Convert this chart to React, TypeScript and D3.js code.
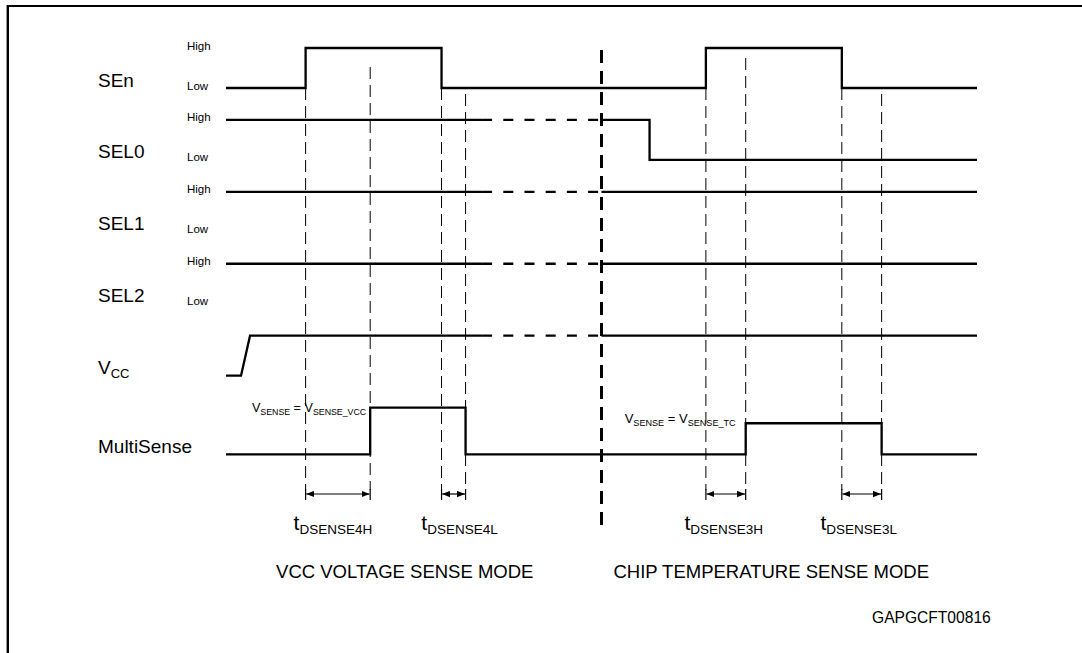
import React from 'react';
import * as d3 from 'd3';

// ---------- data ----------
const signals = ['SEn', 'SEL0', 'SEL1', 'SEL2', 'VCC', 'MultiSense'];
const levelLabelRows = ['SEn', 'SEL0', 'SEL1', 'SEL2'];
const levelNames = ['High', 'Low'];
const timeDomain = [0, 100];
const modeBoundary = 50;
const dashedSpan = [34.1, 50];
const dashedRows = ['SEL0', 'SEL1', 'SEL2', 'VCC'];

const senWave: [number, number][] = [[0, 0], [10.6, 0], [10.6, 1], [28.7, 1], [28.7, 0], [63.9, 0], [63.9, 1], [82, 1], [82, 0], [100, 0]];
const sel0Wave: [number, number][] = [[0, 1], [56.4, 1], [56.4, 0], [100, 0]];
const sel1Wave: [number, number][] = [[0, 1], [100, 1]];
const sel2Wave: [number, number][] = [[0, 1], [100, 1]];
const vccWave: [number, number][] = [[0, 0], [2, 0], [3.2, 1], [100, 1]];
const multiSenseWave: [number, number][] = [[0, 0], [19.2, 0], [19.2, 1], [31.9, 1], [31.9, 0], [69.2, 0], [69.2, 0.665], [87.3, 0.665], [87.3, 0], [100, 0]];

const guideTimes = [10.6, 19.2, 28.7, 31.9, 63.9, 69.2, 82, 87.3];
const timingNames = ['DSENSE4H', 'DSENSE4L', 'DSENSE3H', 'DSENSE3L'];
const timingFrom = [10.6, 28.7, 63.9, 82];
const timingTo = [19.2, 31.9, 69.2, 87.3];
const modeLabels = ['VCC VOLTAGE SENSE MODE', 'CHIP TEMPERATURE SENSE MODE'];
const modeCenters = [23.8, 72.6];
const senseSubs = ['SENSE_VCC', 'SENSE_TC'];
const senseAt = [19.2, 69.2];
const senseLevel = [1, 0.665];
const figureCode = 'GAPGCFT00816';

const waves: Record<string, [number, number][]> = {
  SEn: senWave, SEL0: sel0Wave, SEL1: sel1Wave, SEL2: sel2Wave, VCC: vccWave, MultiSense: multiSenseWave,
};

// ---------- layout ----------
const W = 1082;
const H = 653;
const FONT = '"Liberation Sans", Arial, Helvetica, sans-serif';
const x = d3.scaleLinear().domain(timeDomain).range([226, 977]);
const rowTop = d3.scalePoint<string>().domain(signals).range([48, 407.6]);
const swing = (s: string) => (s === 'MultiSense' ? 46.7 : 40);
const yOf = (s: string, level: number) => (rowTop(s) as number) + (1 - level) * swing(s);
const levelAt = (wave: [number, number][], t: number) => {
  let v = wave[0][1];
  for (const [tt, l] of wave) if (tt <= t) v = l;
  return v;
};

const guideBottom = 490;
const arrowY = 494;
const timingLabelY = 530;
const labelShift = [-5, 6, -2, -3];
const guideTopOffsets = [0, 19, 0, 6, 0, 10, 0, 6];

export default function App() {
  const lineGen = (s: string) =>
    d3.line<[number, number]>().x((d) => x(d[0])).y((d) => yOf(s, d[1]))(waves[s]) as string;

  const senLow = yOf('SEn', 0);
  const senHigh = yOf('SEn', 1);
  const senEdges = senWave.map((d) => d[0]);
  const guideStart = (t: number, i: number) => {
    if (senEdges.includes(t)) return senLow;
    return i % 4 === 1 ? senHigh + guideTopOffsets[i] : senLow + guideTopOffsets[i];
  };

  return (
    <svg
      width={W}
      height={H}
      viewBox={`0 0 ${W} ${H}`}
      style={{ position: 'absolute', left: 0, top: 0, background: '#fff' }}
      fontFamily={FONT}
    >
      <defs>
        <clipPath id="solidClip">
          <rect x={0} y={0} width={x(dashedSpan[0])} height={H} />
          <rect x={x(dashedSpan[1])} y={0} width={W - x(dashedSpan[1])} height={H} />
        </clipPath>
        <marker id="arrowHead" viewBox="0 0 10 8" refX={10} refY={4} markerWidth={8} markerHeight={7} markerUnits="userSpaceOnUse" orient="auto-start-reverse">
          <path d="M0,0 L10,4 L0,8 Z" fill="#000" />
        </marker>
      </defs>

      {/* frame */}
      <line x1={7.8} y1={6} x2={W} y2={6} stroke="#000" strokeWidth={2.2} />
      <line x1={7.8} y1={5} x2={7.8} y2={H} stroke="#000" strokeWidth={2.4} />

      {/* guide dashed verticals */}
      {guideTimes.map((t, i) => (
        <line key={'g' + i} x1={x(t)} x2={x(t)} y1={guideStart(t, i)} y2={guideBottom} stroke="#000" strokeWidth={1} strokeDasharray="12,6" />
      ))}

      {/* mode boundary */}
      <line x1={x(modeBoundary)} x2={x(modeBoundary)} y1={senHigh + 2} y2={532} stroke="#000" strokeWidth={3} strokeDasharray="13,8" />

      {/* waveforms */}
      {signals.map((s) => (
        <g key={s}>
          <path
            d={lineGen(s)}
            fill="none"
            stroke="#000"
            strokeWidth={2.3}
            strokeLinejoin="miter"
            clipPath={dashedRows.includes(s) ? 'url(#solidClip)' : undefined}
          />
          {dashedRows.includes(s) && (
            <line
              x1={x(dashedSpan[0])}
              x2={x(dashedSpan[1])}
              y1={yOf(s, levelAt(waves[s], dashedSpan[0]))}
              y2={yOf(s, levelAt(waves[s], dashedSpan[0]))}
              stroke="#000"
              strokeWidth={2.3}
              strokeDasharray="10,11.2"
            />
          )}
        </g>
      ))}

      {/* signal names */}
      {signals.map((s) =>
        s === 'VCC' ? (
          <text key={'n' + s} x={98} y={yOf(s, 0) - 1.5} fontSize={19}>
            V<tspan fontSize={13} dy={4}>CC</tspan>
          </text>
        ) : (
          <text key={'n' + s} x={98} y={yOf(s, 0) - 1.5} fontSize={19}>
            {s}
          </text>
        )
      )}

      {/* High / Low labels */}
      {levelLabelRows.map((s) =>
        levelNames.map((n, j) => (
          <text key={s + n} x={187} y={yOf(s, 1 - j) + 1.5} fontSize={11.5}>
            {n}
          </text>
        ))
      )}

      {/* V_SENSE annotations */}
      {senseSubs.map((sub, i) => (
        <text
          key={'vs' + i}
          x={x(senseAt[i]) - (i === 0 ? 4 : 10)}
          y={yOf('MultiSense', senseLevel[i]) + (i === 0 ? 4.2 : -0.5)}
          fontSize={i === 0 ? 12.6 : 13}
          textAnchor="end"
        >
          V<tspan fontSize={i === 0 ? 8.8 : 9.1} dy={3}>SENSE</tspan>
          <tspan dy={-3}> = V</tspan>
          <tspan fontSize={i === 0 ? 8.8 : 9.1} dy={3}>{sub}</tspan>
        </text>
      ))}

      {/* timing arrows */}
      {timingNames.map((nm, i) => {
        const x1 = x(timingFrom[i]);
        const x2 = x(timingTo[i]);
        return (
          <g key={nm}>
            <line x1={x1} x2={x1} y1={489} y2={500} stroke="#000" strokeWidth={1.2} />
            <line x1={x2} x2={x2} y1={489} y2={500} stroke="#000" strokeWidth={1.2} />
            <line x1={x1 + 0.6} x2={x2 - 0.6} y1={arrowY} y2={arrowY} stroke="#000" strokeWidth={1.2} markerStart="url(#arrowHead)" markerEnd="url(#arrowHead)" />
            <text x={(x1 + x2) / 2 + labelShift[i]} y={timingLabelY} textAnchor="middle" fontSize={21}>
              t<tspan fontSize={13.5} dy={4}>{nm}</tspan>
            </text>
          </g>
        );
      })}

      {/* mode labels */}
      {modeLabels.map((m, i) => (
        <text key={m} x={x(modeCenters[i])} y={578} textAnchor="middle" fontSize={18.5}>
          {m}
        </text>
      ))}

      <text x={872} y={623} fontSize={15.6}>
        {figureCode}
      </text>
    </svg>
  );
}
